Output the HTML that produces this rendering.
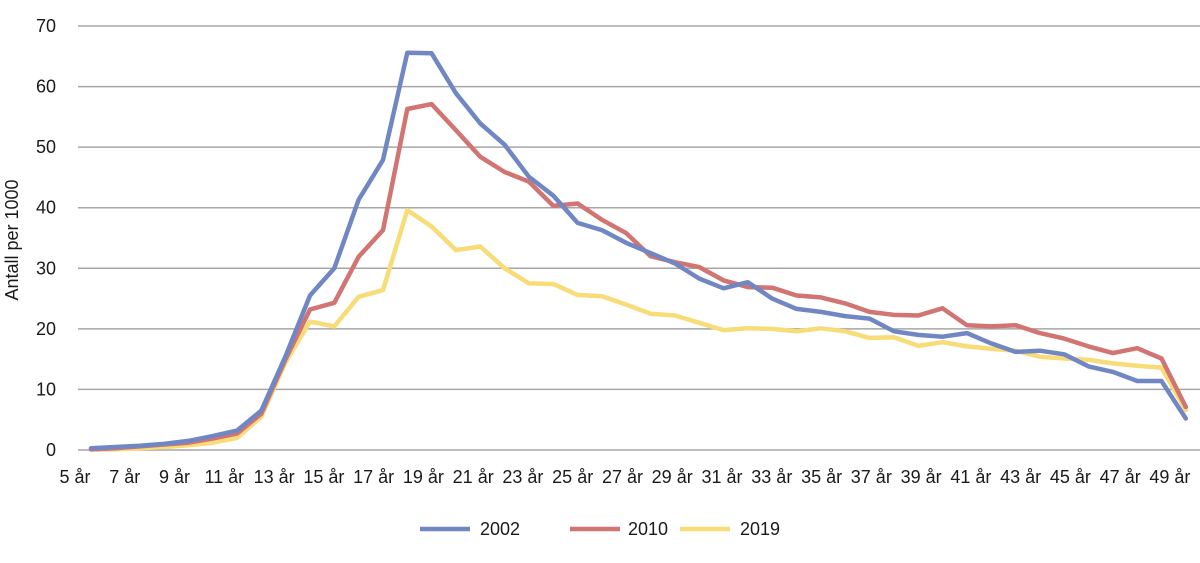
<!DOCTYPE html>
<html><head><meta charset="utf-8"><style>
html,body{margin:0;padding:0;background:#fff;}
svg text{font-family:"Liberation Sans",sans-serif;fill:#1a1a1a;}
</style></head><body>
<svg width="1200" height="558" viewBox="0 0 1200 558" xmlns="http://www.w3.org/2000/svg">
<g stroke="#a6a6a6" stroke-width="1.5">
<line x1="78" x2="1200" y1="26" y2="26"/><line x1="78" x2="1200" y1="86.6" y2="86.6"/>
<line x1="78" x2="1200" y1="147.1" y2="147.1"/><line x1="78" x2="1200" y1="207.7" y2="207.7"/>
<line x1="78" x2="1200" y1="268.3" y2="268.3"/><line x1="78" x2="1200" y1="328.9" y2="328.9"/>
<line x1="78" x2="1200" y1="389.4" y2="389.4"/><line x1="78" x2="1200" y1="450" y2="450"/>
</g>
<g font-size="18" text-anchor="end">
<text x="56" y="32">70</text><text x="56" y="92.6">60</text><text x="56" y="153">50</text>
<text x="56" y="213.7">40</text><text x="56" y="274.3">30</text><text x="56" y="334.9">20</text>
<text x="56" y="395.4">10</text><text x="56" y="456">0</text>
</g>
<text font-size="18" transform="translate(18,240) rotate(-90)" text-anchor="middle">Antall per 1000</text>
<g font-size="18" text-anchor="middle">
<text x="75" y="483">5 år</text><text x="124.8" y="483">7 år</text><text x="174.5" y="483">9 år</text>
<text x="224.3" y="483">11 år</text><text x="274.1" y="483">13 år</text><text x="323.9" y="483">15 år</text>
<text x="373.6" y="483">17 år</text><text x="423.4" y="483">19 år</text><text x="473.2" y="483">21 år</text>
<text x="522.9" y="483">23 år</text><text x="572.7" y="483">25 år</text><text x="622.5" y="483">27 år</text>
<text x="672.2" y="483">29 år</text><text x="722" y="483">31 år</text><text x="771.8" y="483">33 år</text>
<text x="821.6" y="483">35 år</text><text x="871.3" y="483">37 år</text><text x="921.1" y="483">39 år</text>
<text x="970.9" y="483">41 år</text><text x="1020.6" y="483">43 år</text><text x="1070.4" y="483">45 år</text>
<text x="1120.2" y="483">47 år</text><text x="1169.9" y="483">49 år</text>
</g>
<g fill="none" stroke-width="4.5" stroke-linejoin="round" stroke-linecap="round">
<polyline id="s2019" stroke="#f7dc78"/>
<polyline id="s2010" stroke="#d17472"/>
<polyline id="s2002" stroke="#7087c4"/>
</g>
<g stroke-width="4.5">
<line x1="420" x2="470" y1="529" y2="529" stroke="#7087c4"/>
<line x1="570" x2="620" y1="529" y2="529" stroke="#d17472"/>
<line x1="680" x2="730" y1="529" y2="529" stroke="#f7dc78"/>
</g>
<g font-size="18"><text x="480" y="535">2002</text><text x="628" y="535">2010</text><text x="740" y="535">2019</text></g>
<script>
var a=[0.3,0.5,0.7,1.0,1.5,2.3,3.2,6.5,15.5,25.5,30,41.3,47.9,65.6,65.5,58.9,53.9,50.4,45.1,42,37.5,36.3,34.2,32.5,30.8,28.3,26.7,27.7,25,23.3,22.8,22.1,21.7,19.6,19,18.7,19.3,17.6,16.2,16.4,15.8,13.8,12.9,11.4,11.4,5.2];
var b=[0.1,0.3,0.6,0.9,1.2,1.9,2.7,6.0,15,23.2,24.3,31.9,36.3,56.3,57.1,52.8,48.4,45.9,44.3,40.3,40.7,38,35.8,32,31,30.2,28,26.9,26.8,25.5,25.2,24.2,22.8,22.3,22.2,23.4,20.6,20.4,20.6,19.3,18.4,17.1,16.0,16.8,15.1,7.1];
var c=[0.1,0.1,0.3,0.5,0.8,1.2,2.0,5.5,14.5,21.2,20.4,25.3,26.4,39.6,36.9,33.0,33.6,30.0,27.5,27.4,25.6,25.4,24,22.5,22.2,21,19.8,20.1,20,19.6,20.1,19.6,18.5,18.6,17.2,17.8,17.1,16.7,16.4,15.4,15.1,14.9,14.3,13.9,13.6,6.6];
function pts(d){return d.map(function(v,i){return (91+24.33*i).toFixed(1)+","+(450-v*6.057).toFixed(1)}).join(" ");}
document.getElementById("s2002").setAttribute("points",pts(a));
document.getElementById("s2010").setAttribute("points",pts(b));
document.getElementById("s2019").setAttribute("points",pts(c));
</script>
</svg>
</body></html>
